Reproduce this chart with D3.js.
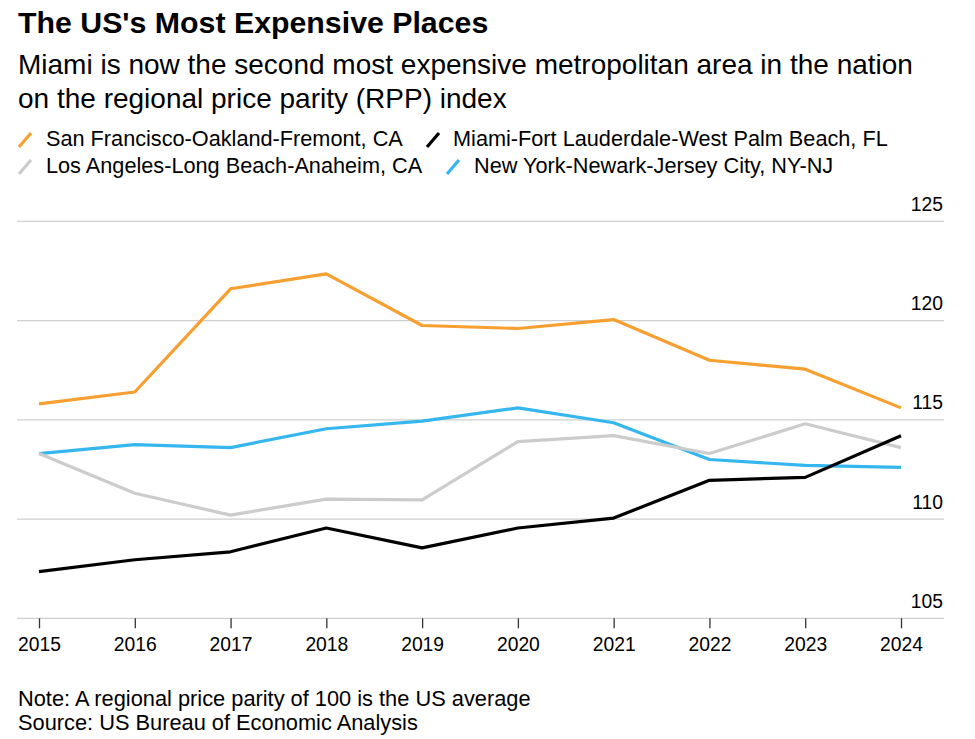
<!DOCTYPE html>
<html>
<head>
<meta charset="utf-8">
<script src="https://cdn.jsdelivr.net/npm/d3@7"></script>
<style>
  html, body { margin: 0; padding: 0; background: #fff; }
  svg { display: block; font-family: "Liberation Sans", Arial, Helvetica, sans-serif; }
</style>
</head>
<body>
<svg id="chart" width="975" height="739"></svg>
<script>
const years = [2015, 2016, 2017, 2018, 2019, 2020, 2021, 2022, 2023, 2024];
const sanFrancisco = [115.8, 116.4, 121.6, 122.35, 119.75, 119.6, 120.05, 118.0, 117.55, 115.6];
const losAngeles   = [113.3, 111.3, 110.2, 111.0, 110.97, 113.9, 114.2, 113.3, 114.8, 113.6];
const miami        = [107.35, 107.95, 108.35, 109.55, 108.55, 109.55, 110.05, 111.95, 112.1, 114.2];
const newYork      = [113.3, 113.75, 113.6, 114.55, 114.93, 115.6, 114.85, 113.0, 112.7, 112.6];
const yTicks = [105, 110, 115, 120, 125];
const seriesNames = [
  "San Francisco-Oakland-Fremont, CA",
  "Los Angeles-Long Beach-Anaheim, CA",
  "Miami-Fort Lauderdale-West Palm Beach, FL",
  "New York-Newark-Jersey City, NY-NJ"
];
const seriesColors = ["#F7A031", "#CCCCCC", "#000000", "#35B6EE"];
const seriesValues = [sanFrancisco, losAngeles, miami, newYork];

const svg = d3.select("#chart");
const x = d3.scaleLinear().domain([2015, 2024]).range([39, 901]);
const y = d3.scaleLinear().domain([105, 125]).range([618.3, 221.3]);

// Title & subtitle
svg.append("text").attr("x", 18).attr("y", 33)
  .attr("font-size", 30.3).attr("font-weight", "bold").attr("fill", "#000")
  .text("The US's Most Expensive Places");
svg.append("text").attr("x", 18).attr("y", 74)
  .attr("font-size", 28).attr("fill", "#000")
  .text("Miami is now the second most expensive metropolitan area in the nation");
svg.append("text").attr("x", 18).attr("y", 108)
  .attr("font-size", 28).attr("fill", "#000")
  .text("on the regional price parity (RPP) index");

// Legend (column-wise: SF, LA | Miami, NY)
const legendPos = [
  {mx: 19, tx: 46, by: 146},
  {mx: 19, tx: 46, by: 173},
  {mx: 427, tx: 453, by: 146},
  {mx: 447, tx: 474, by: 173}
];
legendPos.forEach((p, i) => {
  const g = svg.append("g");
  g.append("line")
    .attr("x1", p.mx).attr("y1", p.by + 1)
    .attr("x2", p.mx + 12).attr("y2", p.by - 13)
    .attr("stroke", seriesColors[i]).attr("stroke-width", 3.2);
  g.append("text").attr("x", p.tx).attr("y", p.by)
    .attr("font-size", 21.7).attr("fill", "#000")
    .text(seriesNames[i]);
});

// Gridlines
svg.append("g").selectAll("line").data(yTicks).join("line")
  .attr("x1", 17).attr("x2", 944)
  .attr("y1", d => y(d)).attr("y2", d => y(d))
  .attr("stroke", "#CFCFCF").attr("stroke-width", 1.3);

// Y tick labels (right side, above gridlines)
svg.append("g").selectAll("text").data(yTicks).join("text")
  .attr("x", 943).attr("y", d => y(d) - 10.5)
  .attr("text-anchor", "end").attr("font-size", 19.3).attr("fill", "#000")
  .text(d => d);

// X axis
const xAxis = d3.axisBottom(x).tickValues(years).tickFormat(d3.format("d"))
  .tickSize(10).tickPadding(9);
const gx = svg.append("g").attr("transform", `translate(0,${y(105)})`).call(xAxis);
gx.select(".domain").remove();
gx.selectAll(".tick line").attr("stroke", "#333").attr("stroke-width", 1.3);
gx.selectAll(".tick text").attr("font-size", 19.3).attr("fill", "#000")
  .attr("font-family", "Liberation Sans, Arial, sans-serif");

// Lines
const line = d3.line().x((d, i) => x(years[i])).y(d => y(d));
const drawOrder = [3, 1, 0, 2];
drawOrder.forEach(i => {
  svg.append("path")
    .datum(seriesValues[i])
    .attr("d", line)
    .attr("fill", "none")
    .attr("stroke", seriesColors[i])
    .attr("stroke-width", 3.2)
    .attr("stroke-linejoin", "round");
});

// Notes
svg.append("text").attr("x", 18).attr("y", 706)
  .attr("font-size", 21.8).attr("fill", "#000")
  .text("Note: A regional price parity of 100 is the US average");
svg.append("text").attr("x", 18).attr("y", 730)
  .attr("font-size", 21.8).attr("fill", "#000")
  .text("Source: US Bureau of Economic Analysis");
</script>
</body>
</html>
